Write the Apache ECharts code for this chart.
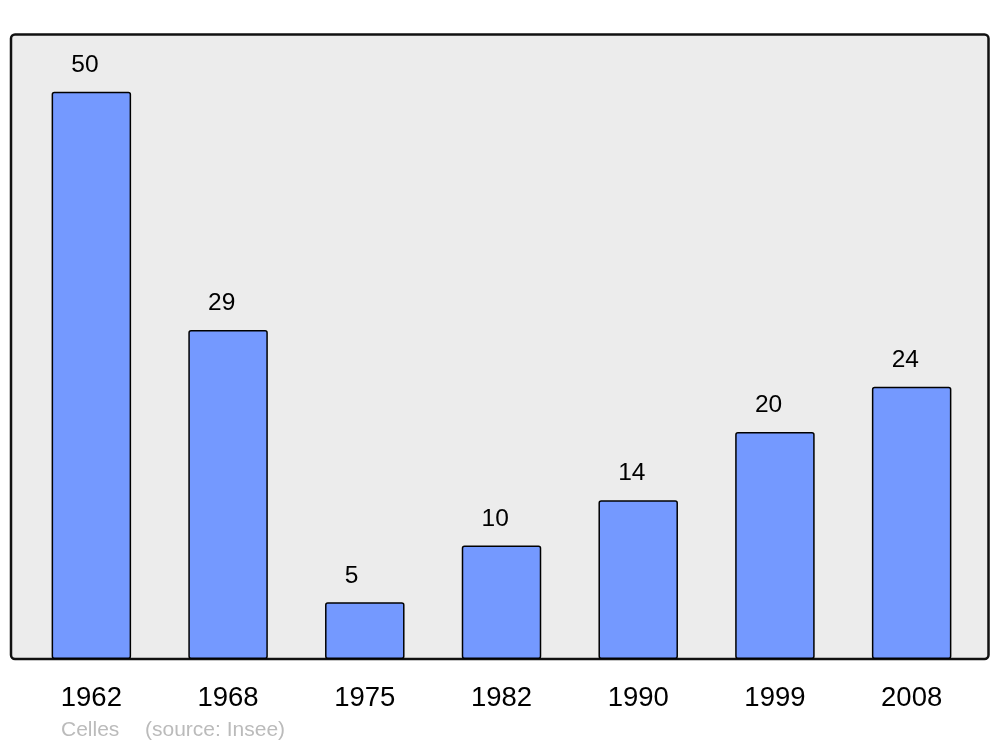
<!DOCTYPE html>
<html>
<head>
<meta charset="utf-8">
<style>
  html, body { margin: 0; padding: 0; background: #fff; }
  #chart { width: 1000px; height: 747px; }
</style>
<script src="https://cdn.jsdelivr.net/npm/echarts@6/dist/echarts.min.js"></script>
</head>
<body>
<div id="chart"></div>
<script>
// Population by census year
const years = ['1962', '1968', '1975', '1982', '1990', '1999', '2008']
const population = [50, 29, 5, 10, 14, 20, 24]
const townName = 'Celles'
const sourceText = '(source: Insee)'

const chart = echarts.init( document.getElementById( 'chart' ) )

chart.setOption( {
  animation : false,
  textStyle : { fontFamily : 'Liberation Sans, Arial, sans-serif' },
  graphic : [
    {
      type : 'rect',
      z : -10,
      silent : true,
      shape : { x : 11, y : 34.5, width : 977.5, height : 624.5, r : 4 },
      style : { fill : '#ececec', stroke : '#111', lineWidth : 2.5 }
    },
    {
      type : 'text',
      left : 61,
      top : 720,
      style : { text : townName, fill : '#bbbbbb', font : '21px Liberation Sans, Arial, sans-serif' }
    },
    {
      type : 'text',
      left : 145,
      top : 720,
      style : { text : sourceText, fill : '#bbbbbb', font : '21px Liberation Sans, Arial, sans-serif' }
    }
  ],
  grid : {
    left : 23,
    right : 20,
    top : 35,
    bottom : 88,
    containLabel : false
  },
  xAxis : {
    type : 'category',
    data : years,
    axisLine : { show : false },
    axisTick : { show : false },
    axisLabel : {
      color : '#000',
      fontSize : 27.5,
      margin : 25
    }
  },
  yAxis : {
    type : 'value',
    min : 0,
    max : 55,
    show : false,
    splitLine : { show : false }
  },
  series : [
    {
      type : 'bar',
      data : population,
      barWidth : 79.5,
      itemStyle : {
        color : '#7499ff',
        borderColor : '#000',
        borderWidth : 1.5,
        borderRadius : 2
      },
      label : {
        show : true,
        position : 'top',
        distance : 14,
        align : 'left',
        offset : [-20, 0],
        color : '#000',
        fontSize : 24.5
      }
    }
  ]
} )
</script>
</body>
</html>
